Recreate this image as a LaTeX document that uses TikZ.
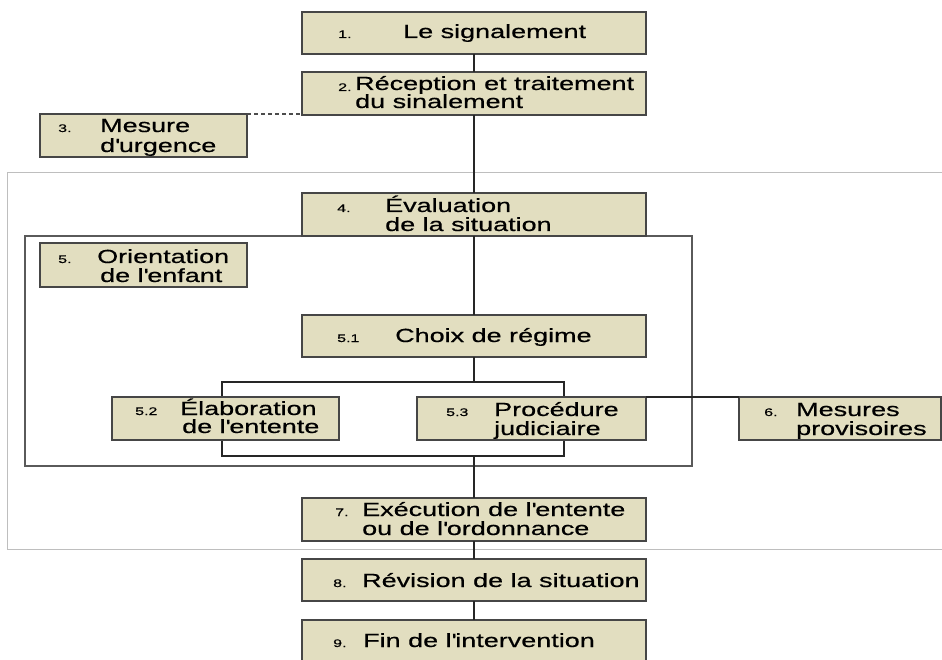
\documentclass[tikz,border=0pt]{standalone}
\usepackage{fontspec}
\setmainfont[FakeStretch=1.42,FakeBold=0.6]{Liberation Sans}
\newfontfamily\numfont[FakeStretch=1.45,FakeBold=0.3]{Liberation Sans}
\definecolor{boxfill}{RGB}{226,222,192}
\definecolor{boxedge}{RGB}{70,70,70}
\definecolor{outerc}{RGB}{190,190,190}
\definecolor{innerc}{RGB}{90,90,90}
\newcommand\ap{\textquotesingle}
\begin{document}
\begin{tikzpicture}[x=1pt,y=-1pt,
  box/.style={draw=boxedge,fill=boxfill,line width=1.6pt,inner sep=0pt,outer sep=0pt,anchor=north west},
  txt/.style={anchor=base west,inner sep=0pt,font=\fontsize{19}{20}\selectfont},
  num/.style={anchor=base west,inner sep=0pt,font=\numfont\fontsize{11}{12}\selectfont},
  link/.style={draw=black!85,line width=1.3pt},
  frameout/.style={draw=outerc,line width=1pt},
  framein/.style={draw=innerc,line width=1.4pt}]
\useasboundingbox (0,0) rectangle (942,660);
% frames
\draw[frameout] (942,173) -- (7,173) -- (7,549) -- (942,549);
\draw[framein] (25,236) rectangle (692,466);
% bracket around 5.2 / 5.3
\coordinate (bt) at (474,382);
\coordinate (bb) at (474,456);
\draw[link] (222,382) rectangle (564,456);
% boxes
\node[box,minimum width=344pt,minimum height=42pt] (b1) at (302,12) {};
\node[box,minimum width=344pt,minimum height=43pt] (b2) at (302,72) {};
\node[box,minimum width=207pt,minimum height=43pt] (b3) at (40,114) {};
\node[box,minimum width=344pt,minimum height=43pt] (b4) at (302,193) {};
\node[box,minimum width=207pt,minimum height=44pt] (b5) at (40,243) {};
\node[box,minimum width=344pt,minimum height=42pt] (b51) at (302,315) {};
\node[box,minimum width=227pt,minimum height=43pt] (b52) at (112,397) {};
\node[box,minimum width=229pt,minimum height=43pt] (b53) at (417,397) {};
\node[box,minimum width=202pt,minimum height=43pt] (b6) at (739,397) {};
\node[box,minimum width=344pt,minimum height=43pt] (b7) at (302,498) {};
\node[box,minimum width=344pt,minimum height=42pt] (b8) at (302,559) {};
\node[box,minimum width=344pt,minimum height=46pt] (b9) at (302,620) {};
% connectors
\draw[link] (b1.south) -- (b2.north);
\draw[link] (b2.south) -- (b4.north);
\draw[draw=black!70,line width=1.2pt,dash pattern=on 4pt off 3pt] (b3.north east) -- (b3.north east -| b2.west);
\draw[link] (b4.south) -- (b51.north);
\draw[link] (b51.south) -- (bt);
\draw[link] (bb) -- (b7.north);
\draw[link] (b53.north east) -- (b6.north west);
\draw[link] (b7.south) -- (b8.north);
\draw[link] (b8.south) -- (b9.north);
% texts
\node[num] (n1) at (338,38) {1.};
\node[txt] (t1) at (403,38) {Le signalement};
\node[num] (n2) at (338,91) {2.};
\node[txt] (t2a) at (355,90) {Réception et traitement};
\node[txt] (t2b) at (355,108) {du sinalement};
\node[num] (n3) at (58,132) {3.};
\node[txt] (t3a) at (100,132) {Mesure};
\node[txt] (t3b) at (100,152) {d\ap urgence};
\node[num] (n4) at (337,212) {4.};
\node[txt] (t4a) at (385,212) {Évaluation};
\node[txt] (t4b) at (385,231) {de la situation};
\node[num] (n5) at (58,263) {5.};
\node[txt] (t5a) at (97,263) {Orientation};
\node[txt] (t5b) at (100,282) {de l\ap enfant};
\node[num] (n51) at (337,342) {5.1};
\node[txt] (t51) at (395,342) {Choix de régime};
\node[num] (n52) at (135,415) {5.2};
\node[txt] (t52a) at (180,415) {Élaboration};
\node[txt] (t52b) at (182,433) {de l\ap entente};
\node[num] (n53) at (446,416) {5.3};
\node[txt] (t53a) at (494,416) {Procédure};
\node[txt] (t53b) at (494,435) {judiciaire};
\node[num] (n6) at (764,416) {6.};
\node[txt] (t6a) at (796,416) {Mesures};
\node[txt] (t6b) at (796,435) {provisoires};
\node[num] (n7) at (335,516) {7.};
\node[txt] (t7a) at (362,516) {Exécution de l\ap entente};
\node[txt] (t7b) at (362,535) {ou de l\ap ordonnance};
\node[num] (n8) at (333,587) {8.};
\node[txt] (t8) at (362,587) {Révision de la situation};
\node[num] (n9) at (333,647) {9.};
\node[txt] (t9) at (363,647) {Fin de l\ap intervention};
\end{tikzpicture}
\end{document}
